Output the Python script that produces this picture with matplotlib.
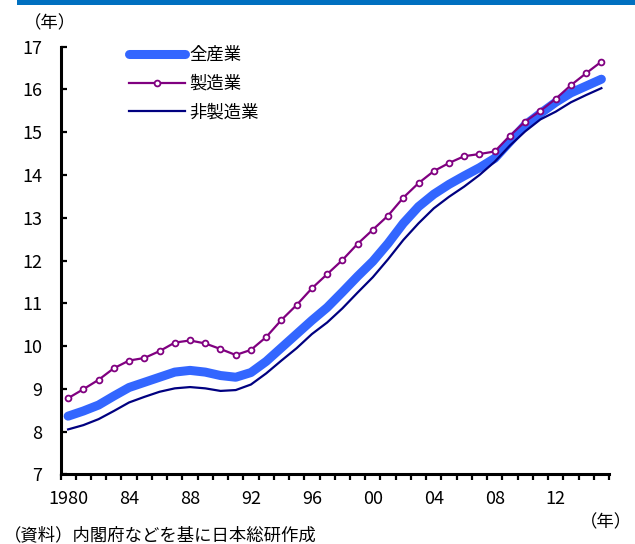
import matplotlib
matplotlib.use("Agg")
import matplotlib.pyplot as plt
from matplotlib.patches import Rectangle
import numpy as np

plt.rcParams['font.family'] = ['Noto Sans CJK JP', 'DejaVu Sans']

years = list(range(1980, 2016))
x_labels = ["1980", "84", "88", "92", "96", "00", "04", "08", "12"]
y_ticks = [7, 8, 9, 10, 11, 12, 13, 14, 15, 16, 17]

# 平均勤続年数（年）
all_industries = [8.36, 8.48, 8.62, 8.83, 9.03, 9.15, 9.27, 9.39, 9.43, 9.39,
                  9.31, 9.27, 9.38, 9.64, 9.96, 10.28, 10.60, 10.90, 11.26, 11.63,
                  11.98, 12.40, 12.87, 13.26, 13.55, 13.78, 13.98, 14.17, 14.39, 14.78,
                  15.17, 15.44, 15.70, 15.92, 16.08, 16.24]
manufacturing = [8.78, 8.99, 9.21, 9.48, 9.66, 9.72, 9.88, 10.08, 10.13, 10.06,
                 9.93, 9.79, 9.91, 10.21, 10.61, 10.96, 11.35, 11.68, 12.01, 12.39,
                 12.72, 13.05, 13.47, 13.81, 14.09, 14.28, 14.44, 14.49, 14.55, 14.92,
                 15.25, 15.50, 15.78, 16.10, 16.38, 16.65]
non_manufacturing = [8.05, 8.15, 8.29, 8.48, 8.68, 8.81, 8.93, 9.01, 9.04, 9.01,
                     8.95, 8.97, 9.10, 9.36, 9.66, 9.95, 10.28, 10.55, 10.88, 11.25,
                     11.61, 12.03, 12.48, 12.87, 13.22, 13.49, 13.73, 14.00, 14.31, 14.69,
                     15.02, 15.30, 15.48, 15.70, 15.87, 16.03]

W, H = 635, 544
fig = plt.figure(figsize=(W / 100, H / 100), dpi=100)

# header bar
fig.patches.append(Rectangle((17 / W, 1 - 5 / H), 1, 5 / H, transform=fig.transFigure,
                             facecolor='#0070C0', edgecolor='none'))

left, right, top, bottom = 60.5, 609, 46.7, 474.3
ax = fig.add_axes([left / W, 1 - bottom / H, (right - left) / W, (bottom - top) / H])

idx = np.arange(len(years))
ax.plot(idx, all_industries, color='#3366FF', lw=6.5, solid_capstyle='round',
        solid_joinstyle='round', label='全産業', zorder=2)
ax.plot(idx, manufacturing, color='#800080', lw=1.6, marker='o', ms=4.2,
        mfc='white', mec='#800080', mew=1.3, label='製造業', zorder=3)
ax.plot(idx, non_manufacturing, color='#000080', lw=1.6, label='非製造業', zorder=3)

ax.set_xlim(-0.5, len(years) - 0.5)
ax.set_ylim(7, 17)

ax.set_yticks(y_ticks)
ax.set_yticklabels([str(v) for v in y_ticks])
ax.tick_params(axis='y', direction='in', length=4, width=1.6, pad=13, labelsize=13)

ax.set_xticks(np.arange(0, len(years), 4))
ax.set_xticklabels(x_labels)
ax.set_xticks(np.arange(-0.5, len(years), 1), minor=True)
ax.tick_params(axis='x', which='major', length=0, pad=11, labelsize=13)
ax.tick_params(axis='x', which='minor', direction='out', length=4, width=1.6)

for side in ['top', 'right']:
    ax.spines[side].set_visible(False)
for side in ['left', 'bottom']:
    ax.spines[side].set_linewidth(2.2)

leg = ax.legend(loc='upper left',
                bbox_to_anchor=((122 - left) / (right - left), 1.018),
                frameon=False, fontsize=12.5, handlelength=3.2, handletextpad=0.3,
                labelspacing=0.62, borderaxespad=0)

fig.text(50 / W, 1 - 23 / H, '（年）', fontsize=12.5, ha='center', va='center')
fig.text(606 / W, 1 - 522 / H, '（年）', fontsize=12.5, ha='center', va='center')
fig.text(4 / W, 1 - 535 / H, '（資料）内閣府などを基に日本総研作成', fontsize=12.5,
         ha='left', va='center')

fig.savefig('out.png', dpi=100)
